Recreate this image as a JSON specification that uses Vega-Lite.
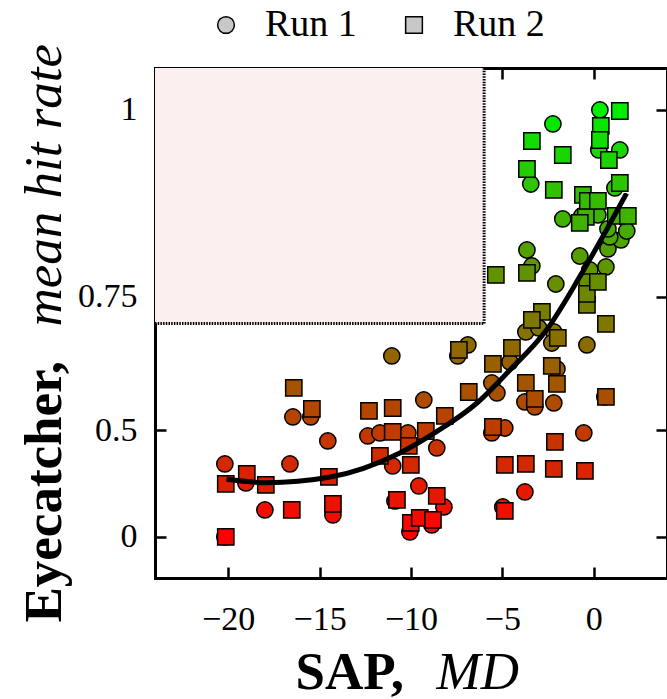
{
  "$schema": "https://vega.github.io/schema/vega-lite/v6.json",
  "width": 512,
  "height": 510,
  "autosize": {"type": "none"},
  "padding": {"left": 155, "top": 68, "right": 0, "bottom": 121},
  "background": "white",
  "config": {
    "font": "Liberation Serif",
    "view": {"stroke": null},
    "axis": {
      "grid": false,
      "domainColor": "black",
      "domainWidth": 3,
      "domainCap": "square",
      "tickColor": "black",
      "tickWidth": 2.5,
      "tickSize": -11,
      "labelFont": "Liberation Serif",
      "labelFontSize": 34,
      "labelColor": "black",
      "labelOverlap": false,
      "labelFlush": false,
      "labelBound": false,
      "titleFont": "Liberation Serif",
      "titleFontSize": 53,
      "titleColor": "black",
      "zindex": 1
    }
  },
  "datasets": {
    "region": [{"xmin": -24, "xmax": -6, "ymin": 0.7071, "ymax": 1.048}],
    "curve": [
      {"x": -20.09, "y": 0.3676},
      {"x": -17.9, "y": 0.3566},
      {"x": -14.48, "y": 0.3739},
      {"x": -10.61, "y": 0.4435},
      {"x": -8.6, "y": 0.4966},
      {"x": -6.41, "y": 0.5596},
      {"x": -4.59, "y": 0.6254},
      {"x": -2.59, "y": 0.6963},
      {"x": -0.77, "y": 0.7808},
      {"x": 0.69, "y": 0.8479},
      {"x": 1.79, "y": 0.8972}
    ],
    "points": [
      {"run": "Run 1", "x": -16.46, "y": 0.5301},
      {"run": "Run 1", "x": -15.48, "y": 0.5301},
      {"run": "Run 1", "x": -14.55, "y": 0.4742},
      {"run": "Run 1", "x": -12.36, "y": 0.4864},
      {"run": "Run 1", "x": -11.7, "y": 0.4935},
      {"run": "Run 1", "x": -10.17, "y": 0.4935},
      {"run": "Run 1", "x": -11.0, "y": 0.4078},
      {"run": "Run 1", "x": -20.18, "y": 0.4135},
      {"run": "Run 1", "x": -16.62, "y": 0.4135},
      {"run": "Run 1", "x": -19.03, "y": 0.3557},
      {"run": "Run 1", "x": -17.99, "y": 0.2514},
      {"run": "Run 1", "x": -14.27, "y": 0.227},
      {"run": "Run 1", "x": -10.88, "y": 0.2904},
      {"run": "Run 1", "x": -20.18, "y": 0.0},
      {"run": "Run 1", "x": -10.06, "y": 0.1082},
      {"run": "Run 1", "x": -9.57, "y": 0.3456},
      {"run": "Run 1", "x": -11.05, "y": 0.6511},
      {"run": "Run 1", "x": -9.3, "y": 0.5664},
      {"run": "Run 1", "x": -5.58, "y": 0.6006},
      {"run": "Run 1", "x": -5.3, "y": 0.5807},
      {"run": "Run 1", "x": -4.59, "y": 0.6402},
      {"run": "Run 1", "x": -7.44, "y": 0.6511},
      {"run": "Run 1", "x": -6.89, "y": 0.6706},
      {"run": "Run 1", "x": -8.59, "y": 0.4566},
      {"run": "Run 1", "x": -3.77, "y": 0.5623},
      {"run": "Run 1", "x": -3.23, "y": 0.5518},
      {"run": "Run 1", "x": -2.02, "y": 0.6273},
      {"run": "Run 1", "x": -2.19, "y": 0.5602},
      {"run": "Run 1", "x": 0.6, "y": 0.5726},
      {"run": "Run 1", "x": -5.58, "y": 0.4935},
      {"run": "Run 1", "x": -4.87, "y": 0.5052},
      {"run": "Run 1", "x": -0.55, "y": 0.4935},
      {"run": "Run 1", "x": -3.77, "y": 0.3246},
      {"run": "Run 1", "x": -4.98, "y": 0.2651},
      {"run": "Run 1", "x": -8.2, "y": 0.2651},
      {"run": "Run 1", "x": -8.86, "y": 0.1676},
      {"run": "Run 1", "x": -3.72, "y": 0.6929},
      {"run": "Run 1", "x": -3.01, "y": 0.6996},
      {"run": "Run 1", "x": -2.19, "y": 0.6929},
      {"run": "Run 1", "x": -2.3, "y": 0.674},
      {"run": "Run 1", "x": -0.38, "y": 0.6706},
      {"run": "Run 1", "x": -3.66, "y": 0.8198},
      {"run": "Run 1", "x": -3.39, "y": 0.7967},
      {"run": "Run 1", "x": -2.08, "y": 0.7697},
      {"run": "Run 1", "x": -0.77, "y": 0.8112},
      {"run": "Run 1", "x": 0.66, "y": 0.7952},
      {"run": "Run 1", "x": -0.22, "y": 0.7908},
      {"run": "Run 1", "x": -0.38, "y": 0.7728},
      {"run": "Run 1", "x": 0.77, "y": 0.8213},
      {"run": "Run 1", "x": 1.48, "y": 0.834},
      {"run": "Run 1", "x": 0.87, "y": 0.8382},
      {"run": "Run 1", "x": 0.77, "y": 0.8493},
      {"run": "Run 1", "x": 1.8, "y": 0.8465},
      {"run": "Run 1", "x": -1.7, "y": 0.863},
      {"run": "Run 1", "x": -0.66, "y": 0.8671},
      {"run": "Run 1", "x": 0.22, "y": 0.8684},
      {"run": "Run 1", "x": 1.15, "y": 0.9041},
      {"run": "Run 1", "x": -3.45, "y": 0.9092},
      {"run": "Run 1", "x": -2.24, "y": 0.9835},
      {"run": "Run 1", "x": 0.33, "y": 1.0},
      {"run": "Run 1", "x": 0.27, "y": 0.952},
      {"run": "Run 1", "x": 1.42, "y": 0.952},
      {"run": "Run 2", "x": -16.41, "y": 0.5907},
      {"run": "Run 2", "x": -15.42, "y": 0.5475},
      {"run": "Run 2", "x": -12.3, "y": 0.5432},
      {"run": "Run 2", "x": -11.0, "y": 0.5496},
      {"run": "Run 2", "x": -11.0, "y": 0.4959},
      {"run": "Run 2", "x": -10.12, "y": 0.4617},
      {"run": "Run 2", "x": -11.7, "y": 0.4355},
      {"run": "Run 2", "x": -10.01, "y": 0.4106},
      {"run": "Run 2", "x": -18.98, "y": 0.3841},
      {"run": "Run 2", "x": -20.13, "y": 0.3523},
      {"run": "Run 2", "x": -17.94, "y": 0.349},
      {"run": "Run 2", "x": -14.49, "y": 0.3748},
      {"run": "Run 2", "x": -16.52, "y": 0.2514},
      {"run": "Run 2", "x": -14.27, "y": 0.278},
      {"run": "Run 2", "x": -10.77, "y": 0.2944},
      {"run": "Run 2", "x": -20.13, "y": 0.0},
      {"run": "Run 2", "x": -10.01, "y": 0.1811},
      {"run": "Run 2", "x": -9.52, "y": 0.2109},
      {"run": "Run 2", "x": -6.84, "y": 0.5827},
      {"run": "Run 2", "x": -5.52, "y": 0.6365},
      {"run": "Run 2", "x": -7.38, "y": 0.6618},
      {"run": "Run 2", "x": -4.48, "y": 0.6653},
      {"run": "Run 2", "x": -8.15, "y": 0.5323},
      {"run": "Run 2", "x": -9.19, "y": 0.4982},
      {"run": "Run 2", "x": -3.72, "y": 0.6006},
      {"run": "Run 2", "x": -3.23, "y": 0.5685},
      {"run": "Run 2", "x": -2.3, "y": 0.6328},
      {"run": "Run 2", "x": -2.02, "y": 0.5986},
      {"run": "Run 2", "x": 0.66, "y": 0.5726},
      {"run": "Run 2", "x": -5.52, "y": 0.5075},
      {"run": "Run 2", "x": -2.13, "y": 0.4717},
      {"run": "Run 2", "x": -4.87, "y": 0.4106},
      {"run": "Run 2", "x": -3.72, "y": 0.4135},
      {"run": "Run 2", "x": -2.19, "y": 0.3991},
      {"run": "Run 2", "x": -0.49, "y": 0.3932},
      {"run": "Run 2", "x": -4.87, "y": 0.2468},
      {"run": "Run 2", "x": -8.59, "y": 0.3099},
      {"run": "Run 2", "x": -8.8, "y": 0.1995},
      {"run": "Run 2", "x": -2.84, "y": 0.7259},
      {"run": "Run 2", "x": -3.39, "y": 0.7129},
      {"run": "Run 2", "x": -1.97, "y": 0.6827},
      {"run": "Run 2", "x": 0.66, "y": 0.7063},
      {"run": "Run 2", "x": -0.38, "y": 0.7371},
      {"run": "Run 2", "x": -0.38, "y": 0.7544},
      {"run": "Run 2", "x": -5.36, "y": 0.7833},
      {"run": "Run 2", "x": -3.66, "y": 0.7863},
      {"run": "Run 2", "x": 0.22, "y": 0.7728},
      {"run": "Run 2", "x": -0.44, "y": 0.8657},
      {"run": "Run 2", "x": -0.77, "y": 0.8576},
      {"run": "Run 2", "x": 1.2, "y": 0.8671},
      {"run": "Run 2", "x": 1.86, "y": 0.8671},
      {"run": "Run 2", "x": -0.6, "y": 0.895},
      {"run": "Run 2", "x": -0.33, "y": 0.8871},
      {"run": "Run 2", "x": 0.22, "y": 0.8871},
      {"run": "Run 2", "x": 1.42, "y": 0.9105},
      {"run": "Run 2", "x": -2.19, "y": 0.9015},
      {"run": "Run 2", "x": -3.66, "y": 0.9283},
      {"run": "Run 2", "x": -1.7, "y": 0.9458},
      {"run": "Run 2", "x": -3.39, "y": 0.963},
      {"run": "Run 2", "x": 1.42, "y": 0.9988},
      {"run": "Run 2", "x": 0.38, "y": 0.9811},
      {"run": "Run 2", "x": 0.33, "y": 0.9642},
      {"run": "Run 2", "x": 0.82, "y": 0.9396}
    ]
  },
  "resolve": {"axis": {"x": "independent", "y": "independent"}},
  "layer": [
    {
      "data": {"name": "region"},
      "mark": {"type": "rect", "fill": "#fcefef", "stroke": null},
      "encoding": {
        "x": {"field": "xmin", "type": "quantitative",
          "scale": {"domain": [-24, 4], "nice": false, "zero": false},
          "axis": {"orient": "bottom", "domain": false, "ticks": false, "labels": false,
            "title": "MD", "titleFontStyle": "italic", "titleFontWeight": "normal",
            "titleAngle": 0, "titleAlign": "left", "titleBaseline": "alphabetic",
            "titleX": 281, "titleY": 110}},
        "x2": {"field": "xmax"},
        "y": {"field": "ymin", "type": "quantitative",
          "scale": {"type": "pow", "exponent": 2, "domain": [-0.31, 1.048], "nice": false, "zero": false},
          "axis": {"orient": "left", "domain": false, "ticks": false, "labels": false,
            "title": "mean hit rate", "titleFontStyle": "italic", "titleFontWeight": "normal",
            "titleAngle": 270, "titleAlign": "left", "titleBaseline": "alphabetic",
            "titleX": -95, "titleY": 258}},
        "y2": {"field": "ymax"}
      }
    },
    {
      "data": {"name": "region"},
      "mark": {"type": "rule", "color": "black", "strokeWidth": 3, "strokeDash": [1.5, 1.2]},
      "encoding": {
        "x": {"field": "xmin", "type": "quantitative", "axis": null},
        "x2": {"field": "xmax"},
        "y": {"field": "ymin", "type": "quantitative", "axis": null}
      }
    },
    {
      "data": {"name": "region"},
      "mark": {"type": "rule", "color": "black", "strokeWidth": 3, "strokeDash": [1.5, 1.2]},
      "encoding": {
        "x": {"field": "xmax", "type": "quantitative", "axis": null},
        "y": {"field": "ymin", "type": "quantitative", "axis": null},
        "y2": {"field": "ymax"}
      }
    },
    {
      "data": {"name": "points"},
      "mark": {"type": "point", "filled": true, "opacity": 1, "stroke": "black", "strokeWidth": 1.5, "size": 265},
      "encoding": {
        "x": {"field": "x", "type": "quantitative",
          "scale": {"domain": [-24, 4], "nice": false, "zero": false},
          "axis": {"orient": "bottom", "values": [-20, -15, -10, -5, 0], "format": "~g",
            "labelPadding": 35, "title": "SAP,", "titleFontWeight": "bold",
            "titleAngle": 0, "titleAlign": "left", "titleBaseline": "alphabetic",
            "titleX": 140, "titleY": 110}},
        "y": {"field": "y", "type": "quantitative",
          "scale": {"type": "pow", "exponent": 2, "domain": [-0.31, 1.048], "nice": false, "zero": false},
          "axis": {"orient": "left", "values": [0, 0.5, 0.75, 1], "labelExpr": "toString(datum.value)",
            "labelPadding": 29, "title": "Eyecatcher,", "titleFontWeight": "bold",
            "titleAngle": 270, "titleAlign": "left", "titleBaseline": "alphabetic",
            "titleX": -95, "titleY": 554}},
        "color": {"field": "y", "type": "quantitative",
          "scale": {"type": "pow", "exponent": 2, "domain": [0, 1], "range": ["#ff0000", "#00ee00"], "interpolate": "rgb"},
          "legend": null},
        "shape": {"field": "run", "type": "nominal",
          "scale": {"domain": ["Run 1", "Run 2"], "range": ["circle", "square"]},
          "legend": {"orient": "none", "legendX": 52, "legendY": -62, "direction": "horizontal",
            "title": null, "labelFontSize": 38, "labelColor": "black", "labelFont": "Liberation Serif",
            "symbolFillColor": "#c8c8c8", "symbolStrokeColor": "black", "symbolStrokeWidth": 1.5,
            "symbolOpacity": 1, "symbolSize": 280, "labelOffset": 20, "columnPadding": 38}}
      }
    },
    {
      "data": {"name": "curve"},
      "mark": {"type": "line", "color": "black", "strokeWidth": 5, "interpolate": "monotone"},
      "encoding": {
        "x": {"field": "x", "type": "quantitative",
          "scale": {"domain": [-24, 4], "nice": false, "zero": false},
          "axis": {"orient": "top", "values": [-20, -15, -10, -5, 0], "labels": false, "title": null}},
        "y": {"field": "y", "type": "quantitative",
          "scale": {"type": "pow", "exponent": 2, "domain": [-0.31, 1.048], "nice": false, "zero": false},
          "axis": {"orient": "right", "values": [0, 0.5, 0.75, 1], "labels": false, "title": null}}
      }
    }
  ]
}
